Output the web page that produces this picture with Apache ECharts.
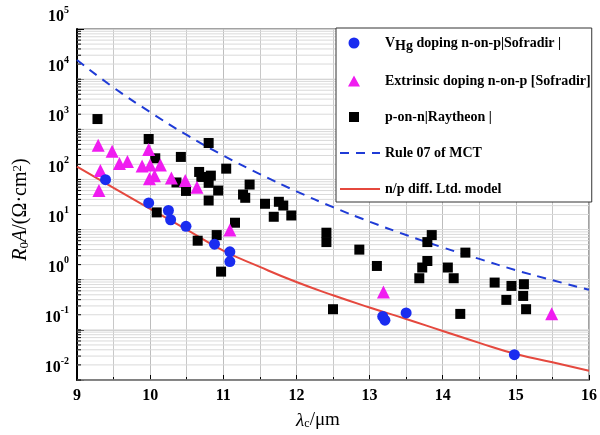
<!DOCTYPE html>
<html><head><meta charset="utf-8">
<script src="https://cdn.jsdelivr.net/npm/echarts@6/dist/echarts.min.js"></script>
<style>html,body{margin:0;padding:0;background:#fff}#c{width:600px;height:435px}</style>
</head><body><div id="c"></div>
<script>
// ---- data ----
const curveX = [9, 9.5, 10, 10.5, 11, 11.5, 12, 12.5, 13, 13.5, 14, 14.5, 15, 15.5, 16];
const rule07 = [24000, 6800, 2200, 770, 300, 128, 58, 28, 14.4, 7.8, 4.4, 2.6, 1.55, 0.98, 0.63];
const npDiff = [180, 68, 26, 10, 3.8, 1.8, 0.9, 0.49, 0.28, 0.165, 0.095, 0.055, 0.033, 0.0225, 0.0153];

const vhgX = [9.39, 9.98, 10.25, 10.28, 10.49, 10.88, 11.09, 11.09, 13.18, 13.21, 13.50, 14.98];
const vhgY = [99, 34, 24, 15.7, 11.6, 5.1, 3.6, 2.3, 0.185, 0.156, 0.218, 0.032];

const extX = [9.29, 9.48, 9.58, 9.69, 9.32, 9.30, 9.89, 9.98, 10.00, 10.06, 9.99, 10.14, 10.29, 10.48, 10.64, 11.09, 13.19, 15.49];
const extY = [478, 363, 207, 227, 150, 60, 186, 393, 195, 119, 103, 195, 107, 95, 70, 9.8, 0.57, 0.21];

const ponX = [9.28, 9.98, 10.07, 10.42, 10.36, 10.49, 10.09, 10.65, 10.67, 10.70, 10.80, 10.83, 10.80, 11.04, 10.93, 10.80,
  11.36, 11.27, 11.30, 11.57, 11.76, 11.82, 11.69, 11.93, 11.16, 10.91, 10.97, 12.41, 12.41, 12.86, 13.10, 12.50,
  13.85, 13.79, 13.79, 13.72, 13.68, 14.07, 14.15, 14.31, 14.24, 14.71, 14.94, 15.11, 14.87, 15.10, 15.14];
const ponY = [1600, 641, 264, 281, 87, 59, 22, 6.0, 141, 112, 533, 119, 85.5, 164, 60, 38,
  79, 50, 43, 32.7, 35.8, 30.2, 18.0, 19.1, 13.7, 7.76, 1.45, 8.66, 5.63, 3.98, 1.88, 0.258,
  7.76, 5.63, 2.36, 1.75, 1.07, 1.75, 1.07, 3.47, 0.208, 0.877, 0.752, 0.813, 0.396, 0.475, 0.258];

// axis ticks
const xMin = 9, xMax = 16, xStep = 1;
const yMin = 0.01, yMax = 100000;
const yDecades = [0.01, 0.1, 1, 10, 100, 1000, 10000];
const yMinorMult = [2, 3, 4, 5, 6, 7, 8, 9];
const yGridVals = [];
yDecades.forEach(d => { yGridVals.push(d); yMinorMult.forEach(m => yGridVals.push(+(d * m).toPrecision(3))); });

const names = {
  vhg: 'VHg doping n-on-p|Sofradir |',
  ext: 'Extrinsic doping n-on-p [Sofradir]',
  pon: 'p-on-n|Raytheon |',
  rule: 'Rule 07 of MCT',
  np: 'n/p diff. Ltd. model'
};

// legend icon shapes (40x11 box, invisible corner anchors keep the aspect)
const ANCH = 'M0,0 L0.01,0 L0,0.01 Z M40,11 L39.99,11 L40,10.99 Z ';
const iconCircle = 'path://' + ANCH + 'M8.5,5.5 A5.5,5.5 0 1,0 19.5,5.5 A5.5,5.5 0 1,0 8.5,5.5 Z';
const iconTri = 'path://' + ANCH + 'M8,11 L14,0 L20,11 Z';
const iconRect = 'path://' + ANCH + 'M9,0.5 L19,0.5 L19,10.5 L9,10.5 Z';

const FF = "'Liberation Serif','Times New Roman',serif";
const zip = (a, b) => a.map((v, i) => [v, b[i]]);

const chart = echarts.init(document.getElementById('c'), null, {renderer: 'canvas'});
chart.setOption({
  animation: false,
  backgroundColor: '#fff',
  grid: {left: 77, right: 8, top: 29, bottom: 54, show: true, borderColor: '#444', borderWidth: 1, backgroundColor: 'transparent'},
  xAxis: {
    type: 'value', min: xMin, max: xMax, interval: xStep,
    axisLine: {onZero: false, lineStyle: {color: '#000', width: 1.5}},
    axisTick: {inside: true, length: 5, lineStyle: {color: '#000', width: 1}},
    minorTick: {show: true, splitNumber: 2, length: 3, lineStyle: {color: '#000', width: 1}},
    splitLine: {show: true, lineStyle: {color: '#bdbdbd', width: 1}},
    minorSplitLine: {show: true, lineStyle: {color: '#c8c8c8', width: 1}},
    axisLabel: {margin: 8, color: '#000', fontFamily: FF, fontWeight: 'bold', fontSize: 16},
    name: '{i|λ}{sub|c}{n|/μm}',
    nameLocation: 'middle', nameGap: 31,
    nameTextStyle: {padding: [0, 30, 0, 0], rich: {
      i: {fontFamily: FF, fontStyle: 'italic', fontSize: 19, color: '#000'},
      sub: {fontFamily: FF, fontSize: 12, color: '#000', verticalAlign: 'bottom', lineHeight: 12},
      n: {fontFamily: FF, fontSize: 19, color: '#000'}
    }}
  },
  yAxis: {
    type: 'log', logBase: 10, min: yMin, max: yMax, interval: 1,
    axisLine: {show: true, lineStyle: {color: '#000', width: 2}},
    axisTick: {show: true, inside: true, length: 7, lineStyle: {color: '#000', width: 1}},
    splitLine: {show: true, lineStyle: {color: '#cfcfcf', width: 1}},
    axisLabel: {
      margin: 8, showMinLabel: true, showMaxLabel: true, padding: [0, 0, 24, 0],
      formatter: v => '{b|10}{s|' + Math.round(Math.log10(v)) + '}',
      rich: {
        b: {fontFamily: FF, fontWeight: 'bold', fontSize: 16, lineHeight: 24, color: '#000'},
        s: {fontFamily: FF, fontWeight: 'bold', fontSize: 10, lineHeight: 12, verticalAlign: 'top', color: '#000'}
      }
    },
    name: '{i|R}{sub|0}{i|A}{n|/(Ω·cm}{sup|2}{n|)}',
    nameLocation: 'middle', nameGap: 46, nameRotate: 90,
    nameTextStyle: {padding: [0, 10, 0, 0], rich: {
      i: {fontFamily: FF, fontStyle: 'italic', fontSize: 20, color: '#000'},
      sub: {fontFamily: FF, fontSize: 13, color: '#000', verticalAlign: 'bottom', lineHeight: 12},
      n: {fontFamily: FF, fontSize: 20, color: '#000'},
      sup: {fontFamily: FF, fontSize: 13, color: '#000', verticalAlign: 'top', lineHeight: 12}
    }}
  },
  legend: {
    orient: 'vertical', left: 336, top: 28,
    padding: [5, 1, 5, 3], itemGap: 20, itemWidth: 40, itemHeight: 11,
    backgroundColor: '#fff', borderColor: '#333', borderWidth: 1, borderRadius: 0,
    data: [
      {name: names.vhg, icon: iconCircle},
      {name: names.ext, icon: iconTri},
      {name: names.pon, icon: iconRect},
      {name: names.rule, itemStyle: {opacity: 0}},
      {name: names.np, itemStyle: {opacity: 0}}
    ],
    textStyle: {fontFamily: FF, fontWeight: 'bold', fontSize: 14, lineHeight: 16, color: '#000',
      rich: {
        v: {fontFamily: FF, fontWeight: 'bold', fontSize: 14, lineHeight: 16, color: '#000'},
        h: {fontFamily: FF, fontWeight: 'bold', fontSize: 14, lineHeight: 16, color: '#000', padding: [6, 0, 0, 0]},
        t: {fontFamily: FF, fontWeight: 'bold', fontSize: 14, lineHeight: 16, color: '#000'}
      }},
    formatter: n => n === names.vhg ? '{v|V}{h|Hg}{t| doping n-on-p|Sofradir |}' : n
  },
  series: [
    {
      type: 'custom', name: 'ygrid', silent: true, z: 1, clip: false,
      data: yGridVals.map(v => [xMin, v]),
      renderItem: (params, api) => {
        const p = api.coord([api.value(0), api.value(1)]);
        const q = api.coord([xMax, api.value(1)]);
        return {type: 'group', children: [
          {type: 'line', shape: {x1: p[0], y1: p[1], x2: q[0], y2: q[1]}, style: {stroke: '#dadada', lineWidth: 1}},
          {type: 'line', shape: {x1: p[0], y1: p[1], x2: p[0] + 4, y2: p[1]}, style: {stroke: '#000', lineWidth: 1}}
        ]};
      }
    },
    {type: 'line', name: names.rule, data: zip(curveX, rule07), smooth: true, symbol: 'none', showSymbol: false,
      lineStyle: {color: '#1f3bd6', width: 2, type: [9, 7]}, itemStyle: {color: '#1f3bd6'}, z: 2},
    {type: 'line', name: names.np, data: zip(curveX, npDiff), smooth: true, symbol: 'none', showSymbol: false,
      lineStyle: {color: '#e5483e', width: 2}, itemStyle: {color: '#e5483e'}, z: 2},
    {type: 'scatter', name: names.pon, data: zip(ponX, ponY), symbol: 'rect', symbolSize: 10,
      itemStyle: {color: '#000', opacity: 1}, z: 3},
    {type: 'scatter', name: names.ext, data: zip(extX, extY), symbol: 'triangle', symbolSize: 13,
      itemStyle: {color: '#f01cf0', opacity: 1}, z: 3},
    {type: 'scatter', name: names.vhg, data: zip(vhgX, vhgY), symbol: 'circle', symbolSize: 11,
      itemStyle: {color: '#1a2cf0', opacity: 1}, z: 3}
  ]
});
</script>
</body></html>
